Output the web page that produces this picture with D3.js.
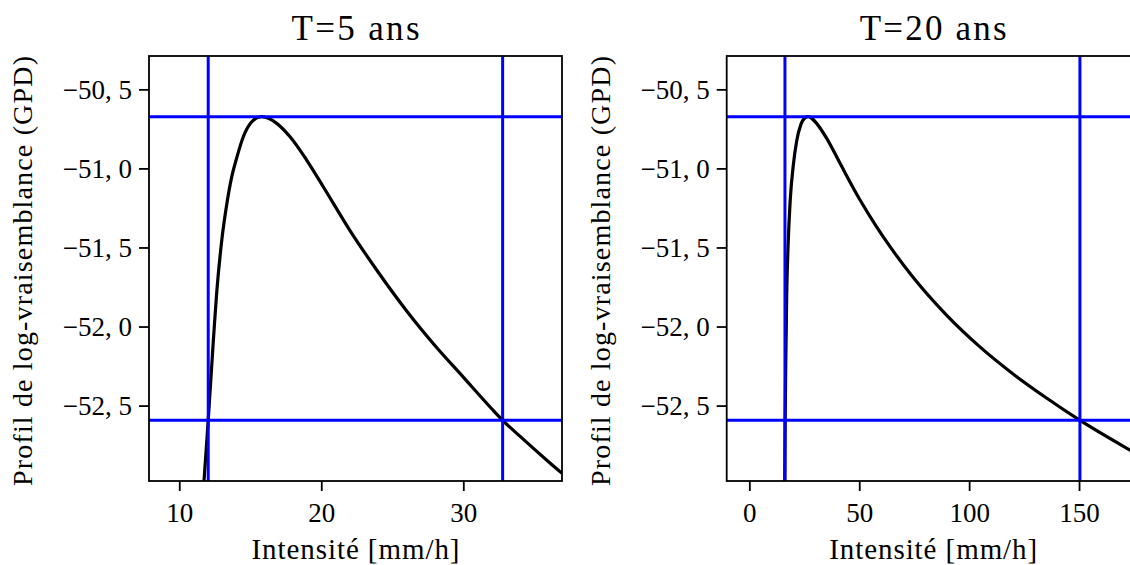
<!DOCTYPE html>
<html>
<head>
<meta charset="utf-8">
<script src="https://cdn.jsdelivr.net/npm/d3@7"></script>
<style>
    body { margin: 0; background: #fff; }
    svg { display: block; }
    text { font-family: "Liberation Serif", "DejaVu Serif", serif; fill: #000; }
</style>
</head>
<body>
<svg id="chart" width="1130" height="565"></svg>
<script>
// values
var leftIntensity = [11.74, 12.04, 12.37, 12.68, 13.0, 13.34, 13.69, 14.04, 14.51, 15.10, 15.80, 16.86, 17.80, 18.97, 20.14, 22.0, 24.0, 26.0, 28.0, 30.0, 32.0, 32.77, 34.0, 36.0, 37.5];
var leftLogLik = [-52.98, -52.593, -52.13, -51.74, -51.45, -51.23, -51.055, -50.935, -50.80, -50.705, -50.673, -50.715, -50.80, -50.947, -51.116, -51.39, -51.655, -51.90, -52.12, -52.32, -52.52, -52.593, -52.695, -52.855, -52.97];
var rightIntensity = [16.1, 16.3, 16.6, 17.0, 17.6, 18.6, 20.0, 21.5, 23.5, 25.3, 26.8, 28.5, 30.6, 35.2, 41.2, 50.3, 57.9, 64.5, 74.5, 89.7, 104.9, 120.0, 135.2, 150.3, 173.0, 178.0];
var rightLogLik = [-53.0, -52.59, -52.2, -51.8, -51.5, -51.2, -50.98, -50.83, -50.72, -50.68, -50.673, -50.685, -50.715, -50.81, -50.966, -51.198, -51.369, -51.504, -51.689, -51.928, -52.129, -52.30, -52.452, -52.592, -52.78, -52.82];
var leftBounds = [12.04, 32.77];
var rightBounds = [16.2, 150.4];
var maxLogLik = -50.673;
var thresholdLogLik = -52.593;
var leftXTicks = [10, 20, 30];
var rightXTicks = [0, 50, 100, 150];
var yTicks = [-50.5, -51.0, -51.5, -52.0, -52.5];
var titles = ['T=5 ans', 'T=20 ans'];
var xLabel = 'Intensité [mm/h]';
var yLabel = 'Profil de log-vraisemblance (GPD)';

var ProfilVis = ProfilVis || {};

ProfilVis.panel = function ( svg, opts ) {
    var _top = 56,
        _bottom = 481,
        _width = 413,
        _left = opts.left,
        _tickLen = 10,
        _x = d3.scaleLinear().domain( opts.xDomain ).range( [ _left, _left + _width ] ),
        _y = d3.scaleLinear().domain( [ -52.977, -50.289 ] ).range( [ _bottom, _top ] ),
        _fmtY = function ( v ) {
            // decimal comma, LaTeX style minus
            return d3.format( '.1f' )( v ).replace( '-', '\u2212' ).replace( '.', ', ' );
        };

    this.draw = function () {
        var g = svg.append( 'g' );
        var clipId = 'clip' + opts.idx;

        g.append( 'clipPath' )
            .attr( 'id', clipId )
            .append( 'rect' )
            .attr( 'x', _left )
            .attr( 'y', _top )
            .attr( 'width', _width )
            .attr( 'height', _bottom - _top );

        var plot = g.append( 'g' ).attr( 'clip-path', 'url(#' + clipId + ')' );

        var pts = opts.xs.map( function ( d, i ) { return [ d, opts.ys[ i ] ]; } );
        plot.append( 'path' )
            .datum( pts )
            .attr( 'fill', 'none' )
            .attr( 'stroke', '#000' )
            .attr( 'stroke-width', 3.2 )
            .attr( 'd', d3.line()
                .curve( d3.curveMonotoneX )
                .x( function ( d ) { return _x( d[ 0 ] ); } )
                .y( function ( d ) { return _y( d[ 1 ] ); } ) );

        // confidence bounds
        plot.selectAll( 'line.vb' )
            .data( opts.bounds )
            .enter()
            .append( 'line' )
            .attr( 'class', 'vb' )
            .attr( 'x1', function ( d ) { return _x( d ); } )
            .attr( 'x2', function ( d ) { return _x( d ); } )
            .attr( 'y1', _top )
            .attr( 'y2', _bottom )
            .attr( 'stroke', '#0000ff' )
            .attr( 'stroke-width', 3 );
        plot.selectAll( 'line.hb' )
            .data( [ maxLogLik, thresholdLogLik ] )
            .enter()
            .append( 'line' )
            .attr( 'class', 'hb' )
            .attr( 'x1', _left )
            .attr( 'x2', _left + _width )
            .attr( 'y1', function ( d ) { return _y( d ); } )
            .attr( 'y2', function ( d ) { return _y( d ); } )
            .attr( 'stroke', '#0000ff' )
            .attr( 'stroke-width', 3 );

        g.append( 'rect' )
            .attr( 'x', _left )
            .attr( 'y', _top )
            .attr( 'width', _width )
            .attr( 'height', _bottom - _top )
            .attr( 'fill', 'none' )
            .attr( 'stroke', '#000' )
            .attr( 'stroke-width', 1.8 );

        var xAxis = g.append( 'g' )
            .attr( 'transform', 'translate(0,' + _bottom + ')' )
            .call( d3.axisBottom( _x ).tickValues( opts.xTicks ).tickSize( _tickLen ).tickPadding( 12 ) );
        var yAxis = g.append( 'g' )
            .attr( 'transform', 'translate(' + _left + ',0)' )
            .call( d3.axisLeft( _y ).tickValues( yTicks ).tickSize( _tickLen ).tickPadding( 7 ).tickFormat( _fmtY ) );

        [ xAxis, yAxis ].forEach( function ( a ) {
            a.select( '.domain' ).remove();
            a.selectAll( '.tick line' ).attr( 'stroke', '#000' ).attr( 'stroke-width', 1.8 );
            a.selectAll( '.tick text' )
                .attr( 'font-size', 27 )
                .style( 'font-family', '"Liberation Serif", serif' )
                .attr( 'fill', '#000' );
        } );
        xAxis.selectAll( '.tick text' ).attr( 'dy', '0.71em' );
        yAxis.selectAll( '.tick text' ).attr( 'dy', '0.33em' );

        g.append( 'text' )
            .attr( 'x', _left + _width / 2 )
            .attr( 'y', 40 )
            .attr( 'text-anchor', 'middle' )
            .attr( 'font-size', 35 )
            .attr( 'textLength', opts.titleLen )
            .attr( 'lengthAdjust', 'spacing' )
            .text( opts.title );

        g.append( 'text' )
            .attr( 'x', _left + _width / 2 )
            .attr( 'y', 559 )
            .attr( 'text-anchor', 'middle' )
            .attr( 'font-size', 29 )
            .attr( 'textLength', 208 )
            .attr( 'lengthAdjust', 'spacing' )
            .text( xLabel );

        g.append( 'text' )
            .attr( 'transform', 'translate(' + ( _left - 117 ) + ',271) rotate(-90)' )
            .attr( 'text-anchor', 'middle' )
            .attr( 'font-size', 28 )
            .attr( 'textLength', 430 )
            .attr( 'lengthAdjust', 'spacing' )
            .text( yLabel );
    };
};

var svg = d3.select( '#chart' );
new ProfilVis.panel( svg, {
    idx: 0, left: 149, xDomain: [ 7.87, 36.95 ], xTicks: leftXTicks,
    xs: leftIntensity, ys: leftLogLik, bounds: leftBounds, title: titles[ 0 ], titleLen: 128
} ).draw();
new ProfilVis.panel( svg, {
    idx: 1, left: 726.7, xDomain: [ -10.3, 177.6 ], xTicks: rightXTicks,
    xs: rightIntensity, ys: rightLogLik, bounds: rightBounds, title: titles[ 1 ], titleLen: 147
} ).draw();
</script>
</body>
</html>
